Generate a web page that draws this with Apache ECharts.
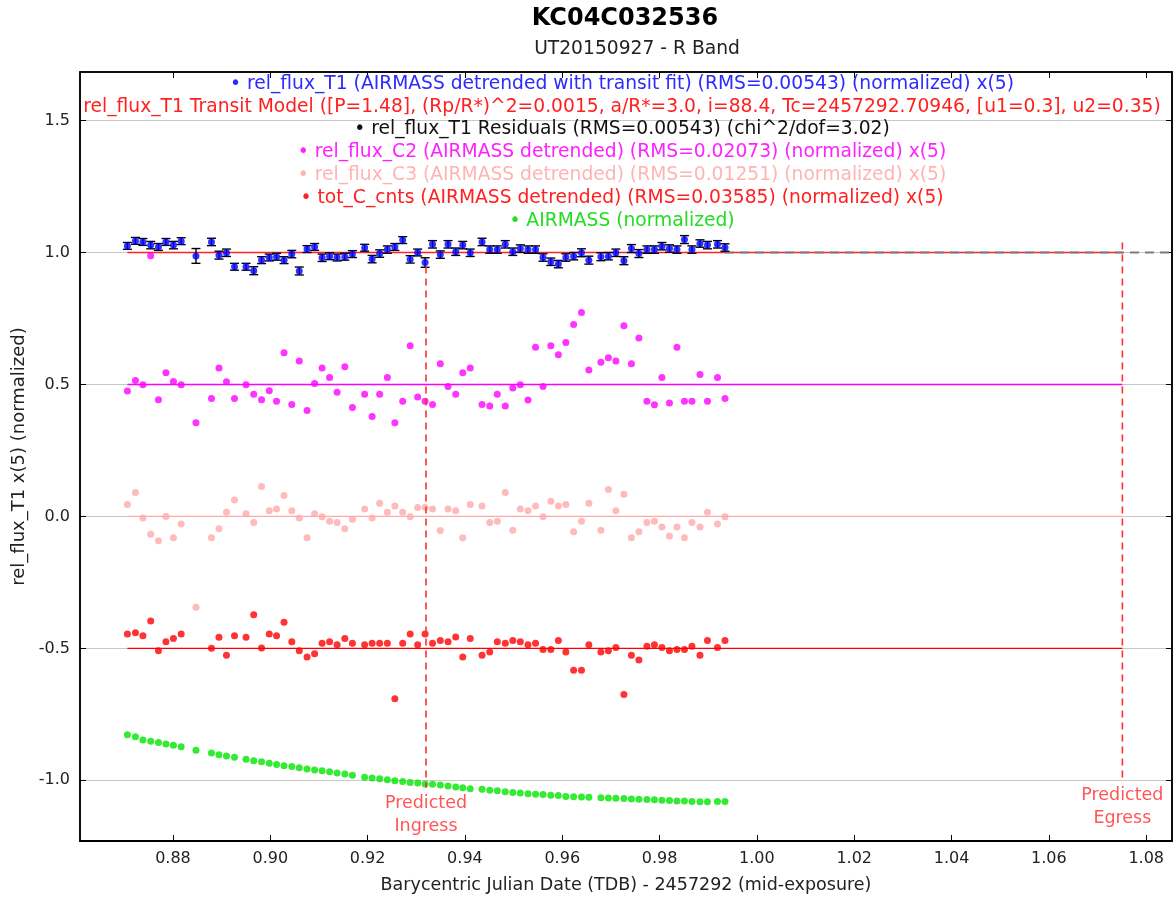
<!DOCTYPE html>
<html><head><meta charset="utf-8">
<script src="https://cdn.jsdelivr.net/npm/echarts@6/dist/echarts.min.js"></script>
<style>html,body{margin:0;padding:0;background:#fff}#c{width:1174px;height:899px}</style>
</head><body><div id="c"></div><script>
const times = [0.87064,0.87229,0.87383,0.87543,0.87702,0.87856,0.88010,0.88169,0.88473,0.88792,0.88946,0.89100,0.89265,0.89502,0.89660,0.89821,0.89979,0.90129,0.90283,0.90442,0.90596,0.90756,0.90911,0.91065,0.91219,0.91373,0.91532,0.91688,0.91939,0.92093,0.92248,0.92406,0.92560,0.92721,0.92875,0.93029,0.93182,0.93334,0.93494,0.93653,0.93811,0.93955,0.94109,0.94352,0.94510,0.94665,0.94829,0.94984,0.95138,0.95296,0.95451,0.95605,0.95765,0.95920,0.96074,0.96234,0.96395,0.96547,0.96794,0.96948,0.97102,0.97267,0.97421,0.97575,0.97740,0.97894,0.98048,0.98203,0.98357,0.98511,0.98665,0.98830,0.98984,0.99190,0.99344];
const t1Flux = [1.025,1.044,1.040,1.028,1.021,1.040,1.028,1.043,0.987,1.040,0.990,0.999,0.946,0.946,0.931,0.971,0.981,0.984,0.971,0.994,0.930,1.013,1.021,0.980,0.986,0.981,0.984,0.994,1.018,0.975,0.996,1.011,1.021,1.047,0.974,1.000,0.962,1.031,0.992,1.031,1.003,1.028,0.999,1.040,1.011,1.011,1.031,1.003,1.015,1.011,1.011,0.981,0.965,0.956,0.981,0.986,0.999,0.971,0.984,0.986,0.999,0.969,1.015,0.996,1.011,1.011,1.024,1.015,1.011,1.049,1.011,1.034,1.028,1.031,1.019];
const t1Err = [0.013,0.013,0.013,0.014,0.013,0.013,0.014,0.013,0.028,0.014,0.015,0.014,0.013,0.013,0.015,0.013,0.013,0.013,0.013,0.014,0.015,0.013,0.013,0.014,0.013,0.013,0.013,0.013,0.013,0.014,0.014,0.014,0.013,0.013,0.014,0.013,0.018,0.014,0.014,0.014,0.014,0.014,0.014,0.014,0.014,0.014,0.014,0.014,0.014,0.014,0.014,0.014,0.014,0.014,0.014,0.014,0.015,0.015,0.015,0.014,0.014,0.015,0.015,0.015,0.014,0.014,0.014,0.014,0.014,0.015,0.014,0.014,0.014,0.014,0.014];
const c2Flux = [0.475,0.515,0.499,0.988,0.442,0.544,0.511,0.499,0.355,0.447,0.562,0.510,0.447,0.499,0.463,0.442,0.476,0.436,0.620,0.424,0.589,0.401,0.504,0.562,0.526,0.470,0.567,0.413,0.463,0.379,0.463,0.526,0.355,0.436,0.647,0.452,0.436,0.424,0.578,0.492,0.463,0.544,0.562,0.424,0.418,0.463,0.418,0.487,0.499,0.441,0.641,0.492,0.647,0.613,0.659,0.727,0.773,0.555,0.584,0.601,0.589,0.722,0.578,0.676,0.436,0.423,0.526,0.430,0.641,0.436,0.436,0.538,0.436,0.526,0.447];
const c3Flux = [0.045,0.091,-0.006,-0.068,-0.092,0.000,-0.081,-0.029,-0.344,-0.081,-0.047,0.016,0.062,0.010,-0.023,0.113,0.021,0.028,0.079,0.021,-0.006,-0.081,0.010,-0.001,-0.018,-0.023,-0.047,-0.011,0.028,-0.006,0.050,0.016,0.039,0.016,-0.001,0.034,0.034,0.028,-0.053,0.028,0.021,-0.081,0.045,0.039,-0.023,-0.018,0.091,-0.052,0.028,0.021,0.039,-0.001,0.057,0.039,0.045,-0.058,-0.018,0.050,-0.052,0.102,0.021,0.084,-0.081,-0.058,-0.023,-0.018,-0.040,-0.074,-0.040,-0.081,-0.023,-0.040,0.016,-0.029,-0.001];
const totCFlux = [-0.446,-0.441,-0.452,-0.396,-0.509,-0.475,-0.463,-0.446,null,-0.500,-0.458,-0.526,-0.452,-0.458,-0.373,-0.499,-0.446,-0.452,-0.401,-0.475,-0.509,-0.533,-0.520,-0.481,-0.475,-0.486,-0.463,-0.481,-0.486,-0.481,-0.481,-0.481,-0.691,-0.481,-0.446,-0.486,-0.446,-0.481,-0.470,-0.475,-0.457,-0.533,-0.463,-0.526,-0.514,-0.475,-0.481,-0.470,-0.475,-0.486,-0.481,-0.504,-0.504,-0.470,-0.514,-0.583,-0.583,-0.486,-0.514,-0.509,-0.497,-0.675,-0.526,-0.544,-0.492,-0.486,-0.497,-0.509,-0.504,-0.504,-0.492,-0.526,-0.470,-0.497,-0.470];
const airmass = [-0.827,-0.835,-0.847,-0.852,-0.857,-0.862,-0.867,-0.873,-0.886,-0.897,-0.903,-0.908,-0.913,-0.920,-0.926,-0.930,-0.935,-0.940,-0.945,-0.948,-0.952,-0.957,-0.961,-0.964,-0.968,-0.972,-0.976,-0.981,-0.988,-0.991,-0.994,-0.998,-1.002,-1.005,-1.008,-1.010,-1.014,-1.015,-1.018,-1.022,-1.025,-1.028,-1.032,-1.034,-1.038,-1.040,-1.043,-1.046,-1.048,-1.051,-1.053,-1.054,-1.057,-1.058,-1.061,-1.062,-1.063,-1.064,-1.066,-1.067,-1.068,-1.069,-1.071,-1.072,-1.073,-1.074,-1.076,-1.077,-1.078,-1.078,-1.080,-1.081,-1.081,-1.080,-1.080];
const xTicks = [0.88,0.90,0.92,0.94,0.96,0.98,1.00,1.02,1.04,1.06,1.08];
const yTicks = [-1.0,-0.5,0.0,0.5,1.0,1.5];
const xRange = [0.8609, 1.0853];
const yRange = [-1.230, 1.684];
const ingressT = 0.9320, egressT = 1.0751;
const ingressY = [0.947, -1.028];
const egressY = [1.038, -1.0];
const baselines = {t1: 1.0, c2: 0.5, c3: 0.0, tot: -0.5};
const legendTexts = [
  ['\u2022 rel_flux_T1 (AIRMASS detrended with transit fit) (RMS=0.00543) (normalized) x(5)', '#2b2bff'],
  ['rel_flux_T1 Transit Model ([P=1.48], (Rp/R*)^2=0.0015, a/R*=3.0, i=88.4, Tc=2457292.70946, [u1=0.3], u2=0.35)', '#ff2020'],
  ['\u2022 rel_flux_T1 Residuals (RMS=0.00543) (chi^2/dof=3.02)', '#111111'],
  ['\u2022 rel_flux_C2 (AIRMASS detrended) (RMS=0.02073) (normalized) x(5)', '#ff22ff'],
  ['\u2022 rel_flux_C3 (AIRMASS detrended) (RMS=0.01251) (normalized) x(5)', '#ffb4b4'],
  ['\u2022 tot_C_cnts (AIRMASS detrended) (RMS=0.03585) (normalized) x(5)', '#ff2020'],
  ['\u2022 AIRMASS (normalized)', '#22dd22']
];
const legendY = [84, 107, 129, 152, 175, 198, 221];

const FONT = 'DejaVu Sans';
const pair = (ys) => times.map((t, i) => [t, ys[i]]);
const tStart = times[0], tEnd = times[times.length - 1];

const chart = echarts.init(document.getElementById('c'), null, {renderer: 'canvas'});

function scatter(name, ys, color, z) {
  return {name, type: 'scatter', data: pair(ys), symbol: 'circle', symbolSize: 7,
    itemStyle: {color}, z, silent: true, animation: false};
}
function hline(y, x0, x1, color, width, type, z) {
  return {type: 'line', data: [[x0, y], [x1, y]], symbol: 'none', silent: true, animation: false,
    lineStyle: {color, width, type: type || 'solid'}, z};
}
function vline(x, ys, z) {
  return {type: 'line', data: [[x, ys[0]], [x, ys[1]]], symbol: 'none', silent: true, animation: false,
    lineStyle: {color: '#ff3030', width: 1.6, type: [7, 5]}, z};
}
function label(x, y, text) {
  return {type: 'scatter', data: [[x, y]], symbolSize: 0, silent: true, animation: false, z: 20,
    label: {show: true, position: 'bottom', distance: 4, formatter: text, color: '#ff2a2a',
      fontFamily: FONT, fontSize: 17.5, lineHeight: 23, align: 'center'}};
}

const option = {
  backgroundColor: '#fff',
  animation: false,
  grid: {left: 80, right: 2, top: 72, bottom: 56, show: true, borderColor: '#000', borderWidth: 1.5, backgroundColor: 'transparent'},
  xAxis: [{
    type: 'value', min: xRange[0], max: xRange[1], position: 'bottom',
    name: 'Barycentric Julian Date (TDB) - 2457292 (mid-exposure)', nameLocation: 'middle', nameGap: 35,
    nameTextStyle: {fontFamily: FONT, fontSize: 17.5, color: '#222'},
    axisLine: {show: true, onZero: false, lineStyle: {color: '#000', width: 2}},
    axisTick: {show: true, inside: true, length: 6, customValues: xTicks, lineStyle: {color: '#000', width: 1}},
    axisLabel: {customValues: xTicks, formatter: v => v.toFixed(2), fontFamily: FONT, fontSize: 16, color: '#222', margin: 10},
    splitLine: {show: false}
  }, {
    type: 'value', min: xRange[0], max: xRange[1], position: 'top',
    axisLine: {show: true, onZero: false, lineStyle: {color: '#000', width: 1.5}},
    axisTick: {show: true, inside: true, length: 6, customValues: xTicks, lineStyle: {color: '#000'}},
    axisLabel: {show: false}, splitLine: {show: false}
  }],
  yAxis: [{
    type: 'value', min: yRange[0], max: yRange[1], position: 'left',
    name: 'rel_flux_T1 x(5) (normalized)', nameLocation: 'middle', nameGap: 52, nameRotate: 90,
    nameTextStyle: {fontFamily: FONT, fontSize: 18, color: '#222'},
    axisLine: {show: true, onZero: false, lineStyle: {color: '#000', width: 1.5}},
    axisTick: {show: true, inside: true, length: 6, customValues: yTicks, lineStyle: {color: '#000'}},
    axisLabel: {customValues: yTicks, formatter: v => v.toFixed(1), fontFamily: FONT, fontSize: 16, color: '#222', margin: 10},
    splitLine: {show: true, lineStyle: {color: '#c8c8c8', width: 1.2}}
  }, {
    type: 'value', min: yRange[0], max: yRange[1], position: 'right',
    axisLine: {show: true, onZero: false, lineStyle: {color: '#000', width: 1.5}},
    axisTick: {show: true, inside: true, length: 6, customValues: yTicks, lineStyle: {color: '#000'}},
    axisLabel: {show: false}, splitLine: {show: false}
  }],
  graphic: [
    {type: 'text', x: 625, y: 19, style: {text: 'KC04C032536', font: 'bold 24px ' + FONT, fill: '#000', align: 'center', verticalAlign: 'middle'}},
    {type: 'text', x: 637, y: 49, style: {text: 'UT20150927 - R Band', font: '18.7px ' + FONT, fill: '#222', align: 'center', verticalAlign: 'middle'}}
  ].concat(legendTexts.map((lt, i) => ({
    type: 'text', x: 622, y: legendY[i], z: 30,
    style: {text: lt[0], font: '18.7px ' + FONT, fill: lt[1], align: 'center', verticalAlign: 'middle'}
  }))),
  series: [
    hline(baselines.t1, tStart, egressT, '#ff2020', 1.6, 'solid', 3),
    hline(baselines.t1, tEnd, xRange[1], '#7a7a7a', 2, [9, 6], 4),
    {
      type: 'custom', silent: true, animation: false, z: 5,
      data: times.map((t, i) => [t, t1Flux[i] - t1Err[i], t1Flux[i] + t1Err[i]]),
      encode: {x: 0, y: [1, 2]},
      renderItem(params, api) {
        const x = api.value(0);
        const p1 = api.coord([x, api.value(1)]), p2 = api.coord([x, api.value(2)]);
        const w = 4.5, st = {stroke: '#000', lineWidth: 1.4};
        return {type: 'group', children: [
          {type: 'line', shape: {x1: p1[0], y1: p1[1], x2: p2[0], y2: p2[1]}, style: st},
          {type: 'line', shape: {x1: p1[0] - w, y1: p1[1], x2: p1[0] + w, y2: p1[1]}, style: st},
          {type: 'line', shape: {x1: p2[0] - w, y1: p2[1], x2: p2[0] + w, y2: p2[1]}, style: st}
        ]};
      }
    },
    scatter('rel_flux_T1', t1Flux, '#0000ff', 6),
    hline(baselines.c2, tStart, egressT, '#ff00ff', 1.4, 'solid', 3),
    scatter('rel_flux_C2', c2Flux, '#ff00ff', 7),
    hline(baselines.c3, tStart, egressT, '#ffaaaa', 1.4, 'solid', 3),
    hline(baselines.tot, tStart, egressT, '#ff0000', 1.4, 'solid', 3),
    scatter('tot_C_cnts', totCFlux, '#ff0000', 7),
    scatter('rel_flux_C3', c3Flux, '#ffaaaa', 8),
    scatter('AIRMASS', airmass, '#00e600', 7),
    vline(ingressT, ingressY, 9),
    vline(egressT, egressY, 9),
    label(ingressT, ingressY[1], 'Predicted\nIngress'),
    label(egressT, egressY[1], 'Predicted\nEgress')
  ]
};
chart.setOption(option);
</script></body></html>
